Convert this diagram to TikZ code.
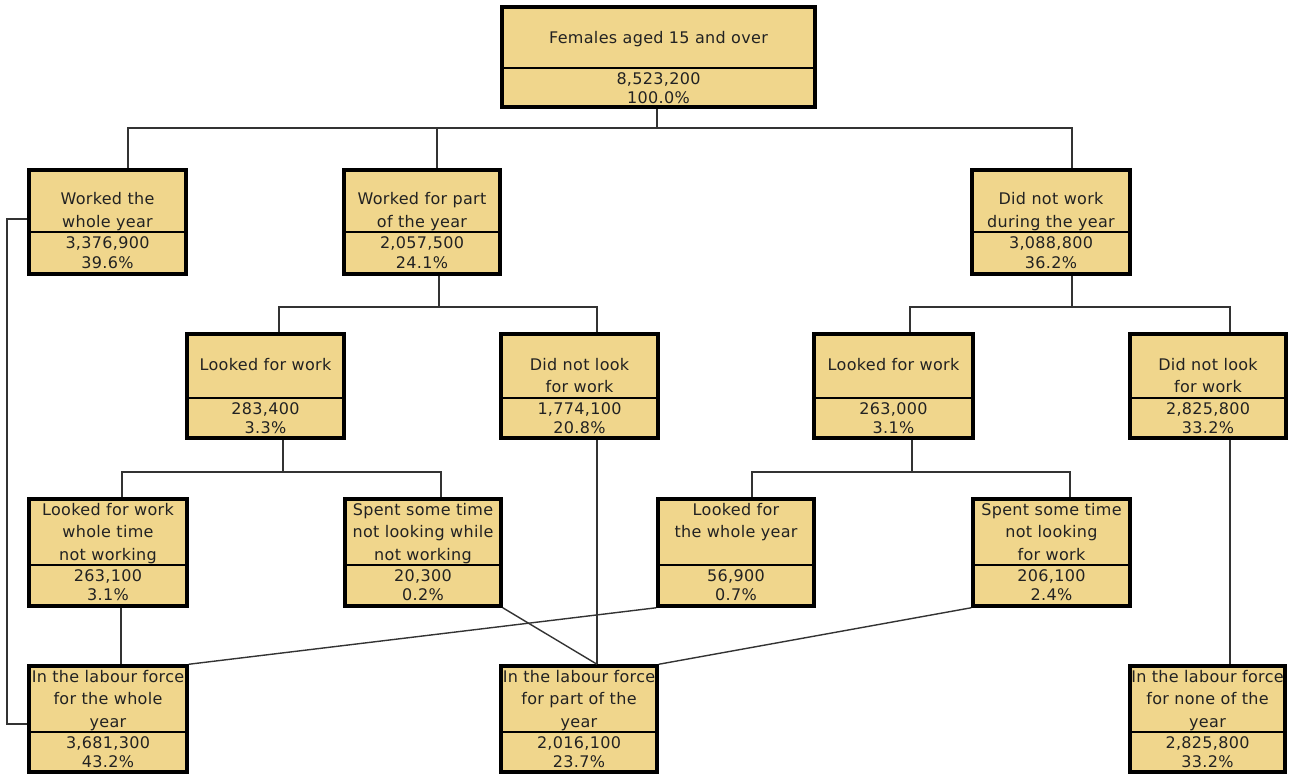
\documentclass[tikz,border=0pt]{standalone}
\usepackage{fontspec}
\setmainfont[LetterSpace=2]{DejaVu Sans}
\definecolor{boxfill}{HTML}{F0D68C}
\definecolor{ink}{HTML}{222222}
\definecolor{wire}{HTML}{333333}
\tikzset{
  cellbox/.style={draw=black, line width=3.5pt, fill=boxfill, inner sep=0pt, rectangle},
  divline/.style={line width=2pt, draw=black},
  conn/.style={line width=1.4pt, draw=wire},
  lbl/.style={anchor=base, inner sep=0pt, font=\fontsize{16}{18}\selectfont, text=ink},
}
\newcommand\cell[6]{%
  \node[cellbox, minimum width={#4-#2}, minimum height={#5-#3}] (#1) at ({(#2+#4)/2},{(#3+#5)/2}) {};
  \draw[divline] (#2,#6) -- (#4,#6);
}
\newcommand\txt[4]{\node[lbl] (#1) at (#2,#3) {#4};}
\begin{document}
\begin{tikzpicture}[x=1pt,y=-1pt]
\useasboundingbox (0,0) rectangle (1292,774);
% boxes
\cell{T}{502}{7}{815}{107}{68}
\cell{A}{29}{170}{186}{274}{232}
\cell{B}{344}{170}{500}{274}{232}
\cell{C}{972}{170}{1130}{274}{232}
\cell{D}{187}{334}{344}{438}{398}
\cell{E}{501}{334}{658}{438}{398}
\cell{F}{814}{334}{973}{438}{398}
\cell{G}{1130}{334}{1286}{438}{398}
\cell{H}{29}{499}{187}{606}{565}
\cell{I}{345}{499}{501}{606}{565}
\cell{J}{658}{499}{814}{606}{565}
\cell{K}{973}{499}{1130}{606}{565}
\cell{L}{29}{666}{187}{772}{732}
\cell{M}{501}{666}{657}{772}{732}
\cell{N}{1130}{666}{1285}{772}{732}
% texts
\txt{T1}{658.5}{43}{Females aged 15 and over}
\txt{T2}{658.5}{84}{8,523,200}
\txt{T3}{658.5}{103}{100.0\%}
\txt{A1}{107.5}{204}{Worked the}
\txt{A2}{107.5}{227}{whole year}
\txt{A3}{107.5}{248}{3,376,900}
\txt{A4}{107.5}{268}{39.6\%}
\txt{B1}{422}{204}{Worked for part}
\txt{B2}{422}{227}{of the year}
\txt{B3}{422}{248}{2,057,500}
\txt{B4}{422}{268}{24.1\%}
\txt{C1}{1051}{204}{Did not work}
\txt{C2}{1051}{227}{during the year}
\txt{C3}{1051}{248}{3,088,800}
\txt{C4}{1051}{268}{36.2\%}
\txt{D1}{265.5}{370}{Looked for work}
\txt{D3}{265.5}{414}{283,400}
\txt{D4}{265.5}{433}{3.3\%}
\txt{E1}{579.5}{370}{Did not look}
\txt{E2}{579.5}{392}{for work}
\txt{E3}{579.5}{414}{1,774,100}
\txt{E4}{579.5}{433}{20.8\%}
\txt{F1}{893.5}{370}{Looked for work}
\txt{F3}{893.5}{414}{263,000}
\txt{F4}{893.5}{433}{3.1\%}
\txt{G1}{1208}{370}{Did not look}
\txt{G2}{1208}{392}{for work}
\txt{G3}{1208}{414}{2,825,800}
\txt{G4}{1208}{433}{33.2\%}
\txt{H1}{108}{515}{Looked for work}
\txt{H2}{108}{537}{whole time}
\txt{H0}{108}{560}{not working}
\txt{H3}{108}{581}{263,100}
\txt{H4}{108}{600}{3.1\%}
\txt{I1}{423}{515}{Spent some time}
\txt{I2}{423}{537}{not looking while}
\txt{I0}{423}{560}{not working}
\txt{I3}{423}{581}{20,300}
\txt{I4}{423}{600}{0.2\%}
\txt{J1}{736}{515}{Looked for}
\txt{J2}{736}{537}{the whole year}
\txt{J3}{736}{581}{56,900}
\txt{J4}{736}{600}{0.7\%}
\txt{K1}{1051.5}{515}{Spent some time}
\txt{K2}{1051.5}{537}{not looking}
\txt{K0}{1051.5}{560}{for work}
\txt{K3}{1051.5}{581}{206,100}
\txt{K4}{1051.5}{600}{2.4\%}
\txt{L1}{108}{682}{In the labour force}
\txt{L2}{108}{704}{for the whole}
\txt{L0}{108}{727}{year}
\txt{L3}{108}{748}{3,681,300}
\txt{L4}{108}{767}{43.2\%}
\txt{M1}{579}{682}{In the labour force}
\txt{M2}{579}{704}{for part of the}
\txt{M0}{579}{727}{year}
\txt{M3}{579}{748}{2,016,100}
\txt{M4}{579}{767}{23.7\%}
\txt{N1}{1207.5}{682}{In the labour force}
\txt{N2}{1207.5}{704}{for none of the}
\txt{N0}{1207.5}{727}{year}
\txt{N3}{1207.5}{748}{2,825,800}
\txt{N4}{1207.5}{767}{33.2\%}
% junctions and drop positions
\coordinate (j1) at (657,128);
\coordinate (j2) at (439,307);
\coordinate (j3) at (1072,307);
\coordinate (j4) at (283,472);
\coordinate (j5) at (912,472);
\coordinate (xA) at (128,0);
\coordinate (xB) at (437,0);
\coordinate (xC) at (1072,0);
\coordinate (xD) at (279,0);
\coordinate (xE) at (597,0);
\coordinate (xF) at (910,0);
\coordinate (xG) at (1230,0);
\coordinate (xH) at (122,0);
\coordinate (xI) at (441,0);
\coordinate (xJ) at (752,0);
\coordinate (xK) at (1070,0);
\coordinate (xL) at (121,0);
\coordinate (yA) at (0,219);
\coordinate (yL) at (0,724);
\coordinate (lft) at (7,0);
% tree connectors
\draw[conn] (T.south -| j1) -- (j1);
\draw[conn] (A.north -| xA) |- (j1);
\draw[conn] (B.north -| xB) -- (xB |- j1);
\draw[conn] (C.north -| xC) |- (j1);
\draw[conn] (B.south -| j2) -- (j2);
\draw[conn] (D.north -| xD) |- (j2);
\draw[conn] (E.north -| xE) |- (j2);
\draw[conn] (C.south -| j3) -- (j3);
\draw[conn] (F.north -| xF) |- (j3);
\draw[conn] (G.north -| xG) |- (j3);
\draw[conn] (D.south -| j4) -- (j4);
\draw[conn] (H.north -| xH) |- (j4);
\draw[conn] (I.north -| xI) |- (j4);
\draw[conn] (F.south -| j5) -- (j5);
\draw[conn] (J.north -| xJ) |- (j5);
\draw[conn] (K.north -| xK) |- (j5);
% outcome connectors
\draw[conn] (A.west |- yA) -| (lft |- yL) -- (L.west |- yL);
\draw[conn] (H.south -| xL) -- (L.north -| xL);
\draw[conn] (J.south west) -- (L.north east);
\draw[conn] (I.south east) -- (M.north -| xE);
\draw[conn] (E.south -| xE) -- (M.north -| xE);
\draw[conn] (K.south west) -- (M.north east);
\draw[conn] (G.south -| xG) -- (N.north -| xG);
\end{tikzpicture}
\end{document}
